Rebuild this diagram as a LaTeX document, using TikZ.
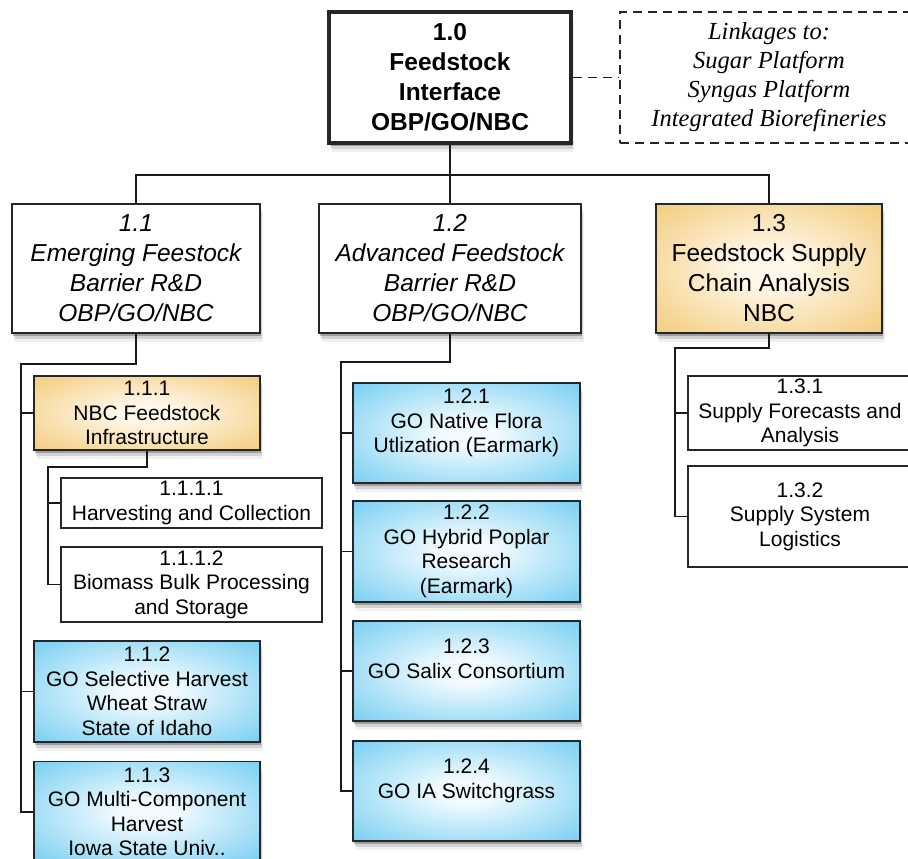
\documentclass[tikz,border=0pt]{standalone}
\usepackage{fontspec}
\setmainfont{Liberation Sans}
\newfontfamily\linkserif{Liberation Serif}
\usetikzlibrary{shadows}

\definecolor{wbsblue}{HTML}{55C2EE}
\definecolor{wbsbluemid}{HTML}{F2FBFF}
\definecolor{wbsorange}{HTML}{F0BF5E}
\definecolor{wbsorangemid}{HTML}{FFF8EA}
\newcommand{\wbsbig}{\fontsize{24.5}{30}\selectfont}
\newcommand{\wbssmall}{\fontsize{21}{24.5}\selectfont}
\pgfdeclareradialshading{goshade}{\pgfpoint{0bp}{0bp}}{color(0bp)=(wbsbluemid);
  color(6bp)=(wbsbluemid); color(44bp)=(wbsblue); color(50bp)=(wbsblue)}
\pgfdeclareradialshading{nbcshade}{\pgfpoint{0bp}{0bp}}{color(0bp)=(wbsorangemid);
  color(6bp)=(wbsorangemid); color(44bp)=(wbsorange); color(50bp)=(wbsorange)}

\tikzset{
  softshadow/.style={
    drop shadow={shadow xshift=1pt,shadow yshift=-3pt,opacity=0.25,fill=black},
    drop shadow={shadow xshift=2pt,shadow yshift=-6pt,opacity=0.12,fill=black},
    drop shadow={shadow xshift=3pt,shadow yshift=-9pt,opacity=0.06,fill=black}},
  wbsbox/.style={draw=black!85, line width=1.6pt, align=center, inner sep=2pt,
    fill=white, text=black},
  topbox/.style={wbsbox, line width=3.5pt, softshadow, font=\wbsbig\bfseries},
  levelbox/.style={wbsbox, softshadow, font=\wbsbig\itshape},
  nbcbox/.style={wbsbox, softshadow, shading=nbcshade},
  gobox/.style={wbsbox, softshadow, shading=goshade, font=\wbssmall},
  taskbox/.style={wbsbox, font=\wbssmall},
  linkbox/.style={draw=black!85, line width=1.3pt, dash pattern=on 9pt off 6pt,
    align=center, font=\linkserif\itshape\fontsize{24.5}{29}\selectfont},
  wbsline/.style={draw=black!90, line width=1.4pt}
}

\begin{document}
\begin{tikzpicture}[x=1pt,y=-1pt]
  \useasboundingbox (0,0) rectangle (908,859);
  \clip (0,0) rectangle (908,859);
  % Level 1.0
  \node[topbox, minimum width=242pt, minimum height=131pt] (n10) at (450,77.5)
    {1.0\\Feedstock\\Interface\\OBP/GO/NBC};
  \node[linkbox, minimum width=298pt, minimum height=131pt] (link) at (769,77.5)
    {Linkages to:\\Sugar Platform\\Syngas Platform\\Integrated Biorefineries};
  % Level 1.x
  \node[levelbox, minimum width=248pt, minimum height=129pt] (n11) at (136,268.5)
    {1.1\\Emerging Feestock\\Barrier R\&D\\OBP/GO/NBC};
  \node[levelbox, minimum width=262pt, minimum height=129pt] (n12) at (450,268.5)
    {1.2\\Advanced Feedstock\\Barrier R\&D\\OBP/GO/NBC};
  \node[nbcbox, font=\wbsbig, minimum width=226pt, minimum height=129pt] (n13) at (769,268.5)
    {1.3\\Feedstock Supply\\Chain Analysis\\NBC};
  % Branch 1.1
  \node[nbcbox, font=\wbssmall, minimum width=226pt, minimum height=74pt] (n111) at (147,413)
    {1.1.1\\NBC Feedstock\\Infrastructure};
  \node[taskbox, minimum width=261pt, minimum height=50pt] (n1111) at (191.5,503)
    {1.1.1.1\\Harvesting and Collection};
  \node[taskbox, minimum width=261pt, minimum height=75pt] (n1112) at (191.5,584.5)
    {1.1.1.2\\Biomass Bulk Processing\\and Storage};
  \node[gobox, minimum width=226pt, minimum height=101pt] (n112) at (147,691.5)
    {1.1.2\\GO Selective Harvest\\Wheat Straw\\State of Idaho};
  \node[gobox, minimum width=226pt, minimum height=101pt] (n113) at (147,812)
    {1.1.3\\GO Multi-Component\\Harvest\\Iowa State Univ..};
  % Branch 1.2
  \node[gobox, minimum width=227pt, minimum height=100pt] (n121) at (466.5,433)
    {1.2.1\\GO Native Flora\\Utlization (Earmark)\\\mbox{}};
  \node[gobox, minimum width=227pt, minimum height=101pt] (n122) at (466.5,551.5)
    {1.2.2\\GO Hybrid Poplar\\Research\\(Earmark)};
  \node[gobox, minimum width=227pt, minimum height=100pt] (n123) at (466.5,671)
    {1.2.3\\GO Salix Consortium\\\mbox{}};
  \node[gobox, minimum width=227pt, minimum height=100pt] (n124) at (466.5,791)
    {1.2.4\\GO IA Switchgrass\\\mbox{}};
  % Branch 1.3
  \node[taskbox, minimum width=224pt, minimum height=74pt] (n131) at (800,413)
    {1.3.1\\Supply Forecasts and\\Analysis};
  \node[taskbox, minimum width=224pt, minimum height=101pt] (n132) at (800,516.5)
    {1.3.2\\Supply System\\Logistics};
  % Connectors
  \coordinate (bus) at (450,175);
  \coordinate (rail11) at (21,364);
  \coordinate (rail111) at (48,467);
  \coordinate (rail12) at (341,362);
  \coordinate (rail13) at (675,348);
  \draw[wbsline, dash pattern=on 9pt off 6pt] (n10.east) -- (link.west);
  \draw[wbsline] (n10.south) -- (n12.north);
  \draw[wbsline] (n11.north) |- (bus) -| (n13.north);
  \draw[wbsline] (n11.south) |- (rail11) |- (n113.west);
  \draw[wbsline] (rail11) |- (n111.west);
  \draw[wbsline] (rail11) |- (n112.west);
  \draw[wbsline] (n111.south) |- (rail111) |- (n1112.west);
  \draw[wbsline] (rail111) |- (n1111.west);
  \draw[wbsline] (n12.south) |- (rail12) |- (n124.west);
  \draw[wbsline] (rail12) |- (n121.west);
  \draw[wbsline] (rail12) |- (n122.west);
  \draw[wbsline] (rail12) |- (n123.west);
  \draw[wbsline] (n13.south) |- (rail13) |- (n132.west);
  \draw[wbsline] (rail13) |- (n131.west);
\end{tikzpicture}
\end{document}
